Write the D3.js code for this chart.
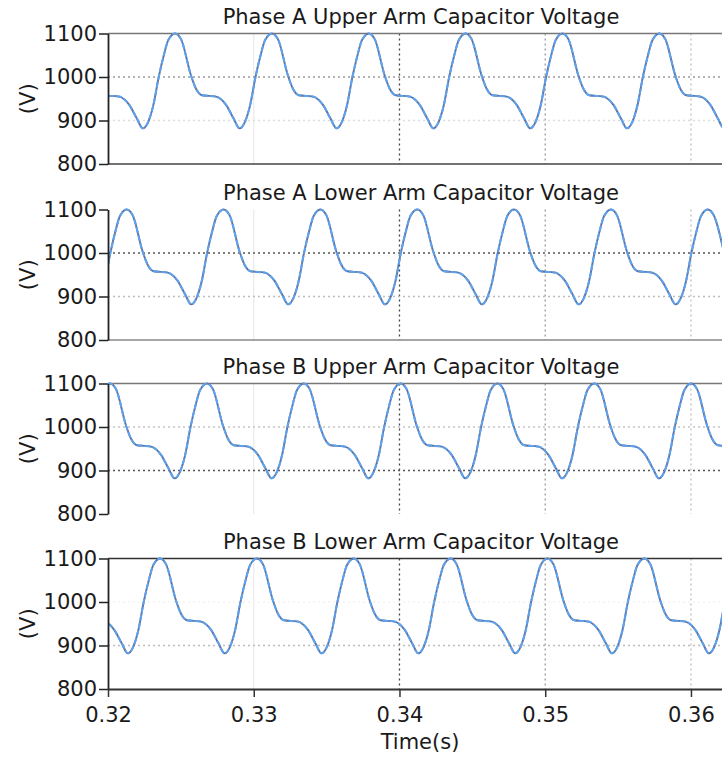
<!DOCTYPE html>
<html>
<head>
<meta charset="utf-8">
<script src="https://cdn.jsdelivr.net/npm/d3@7"></script>
<style>
body{margin:0;background:#fff;}
text{font-family:"DejaVu Sans",Verdana,sans-serif;fill:#1a1a1a;}
</style>
</head>
<body>
<svg id="chart" width="722" height="761"></svg>
<script>
var panelTitles = ["Phase A Upper Arm Capacitor Voltage", "Phase A Lower Arm Capacitor Voltage",
    "Phase B Upper Arm Capacitor Voltage", "Phase B Lower Arm Capacitor Voltage"];
var yTicks = [800, 900, 1000, 1100];
var xTicks = [0.32, 0.33, 0.34, 0.35, 0.36];
var yGrid = [900, 1000];
var xGrid = [0.33, 0.34, 0.35, 0.36];

// Phase A upper arm (time s, voltage V)
var timeAUpper = [0.31796, 0.31837, 0.31906, 0.31940, 0.31981, 0.32077, 0.32146, 0.32197, 0.32239, 0.32276, 0.32311, 0.32348, 0.32383, 0.32414,
    0.32460, 0.32501, 0.32570, 0.32604, 0.32645, 0.32741, 0.32810, 0.32861, 0.32903, 0.32940, 0.32975, 0.33012, 0.33047, 0.33078,
    0.33125, 0.33166, 0.33235, 0.33269, 0.33310, 0.33406, 0.33475, 0.33526, 0.33568, 0.33605, 0.33640, 0.33677, 0.33712, 0.33743,
    0.33789, 0.33830, 0.33899, 0.33933, 0.33974, 0.34070, 0.34139, 0.34190, 0.34232, 0.34269, 0.34304, 0.34341, 0.34376, 0.34407,
    0.34454, 0.34495, 0.34564, 0.34598, 0.34639, 0.34735, 0.34804, 0.34855, 0.34897, 0.34934, 0.34969, 0.35006, 0.35041, 0.35072,
    0.35118, 0.35159, 0.35228, 0.35262, 0.35303, 0.35399, 0.35468, 0.35519, 0.35561, 0.35598, 0.35633, 0.35670, 0.35705, 0.35736,
    0.35783, 0.35824, 0.35893, 0.35927, 0.35968, 0.36064, 0.36133, 0.36184, 0.36226, 0.36263, 0.36298, 0.36335, 0.36370, 0.36401,
    0.36447];
var voltAUpper = [1100, 1087, 1003, 973, 958, 955, 936, 905, 882, 897, 935, 1000, 1050, 1085,
    1100, 1087, 1003, 973, 958, 955, 936, 905, 882, 897, 935, 1000, 1050, 1085,
    1100, 1087, 1003, 973, 958, 955, 936, 905, 882, 897, 935, 1000, 1050, 1085,
    1100, 1087, 1003, 973, 958, 955, 936, 905, 882, 897, 935, 1000, 1050, 1085,
    1100, 1087, 1003, 973, 958, 955, 936, 905, 882, 897, 935, 1000, 1050, 1085,
    1100, 1087, 1003, 973, 958, 955, 936, 905, 882, 897, 935, 1000, 1050, 1085,
    1100, 1087, 1003, 973, 958, 955, 936, 905, 882, 897, 935, 1000, 1050, 1085,
    1100];

// Phase A lower arm
var timeALower = [0.31464, 0.31505, 0.31574, 0.31608, 0.31649, 0.31745, 0.31814, 0.31865, 0.31907, 0.31944, 0.31979, 0.32016, 0.32051, 0.32082,
    0.32128, 0.32169, 0.32238, 0.32272, 0.32313, 0.32409, 0.32478, 0.32529, 0.32571, 0.32608, 0.32643, 0.32680, 0.32715, 0.32746,
    0.32793, 0.32834, 0.32903, 0.32937, 0.32978, 0.33074, 0.33143, 0.33194, 0.33236, 0.33273, 0.33308, 0.33345, 0.33380, 0.33411,
    0.33457, 0.33498, 0.33567, 0.33601, 0.33642, 0.33738, 0.33807, 0.33858, 0.33900, 0.33937, 0.33972, 0.34009, 0.34044, 0.34075,
    0.34122, 0.34163, 0.34232, 0.34266, 0.34307, 0.34403, 0.34472, 0.34523, 0.34565, 0.34602, 0.34637, 0.34674, 0.34709, 0.34740,
    0.34786, 0.34827, 0.34896, 0.34930, 0.34971, 0.35067, 0.35136, 0.35187, 0.35229, 0.35266, 0.35301, 0.35338, 0.35373, 0.35404,
    0.35451, 0.35492, 0.35561, 0.35595, 0.35636, 0.35732, 0.35801, 0.35852, 0.35894, 0.35931, 0.35966, 0.36003, 0.36038, 0.36069,
    0.36115, 0.36156, 0.36225];
var voltALower = [1100, 1087, 1003, 973, 958, 955, 936, 905, 882, 897, 935, 1000, 1050, 1085,
    1100, 1087, 1003, 973, 958, 955, 936, 905, 882, 897, 935, 1000, 1050, 1085,
    1100, 1087, 1003, 973, 958, 955, 936, 905, 882, 897, 935, 1000, 1050, 1085,
    1100, 1087, 1003, 973, 958, 955, 936, 905, 882, 897, 935, 1000, 1050, 1085,
    1100, 1087, 1003, 973, 958, 955, 936, 905, 882, 897, 935, 1000, 1050, 1085,
    1100, 1087, 1003, 973, 958, 955, 936, 905, 882, 897, 935, 1000, 1050, 1085,
    1100, 1087, 1003, 973, 958, 955, 936, 905, 882, 897, 935, 1000, 1050, 1085,
    1100, 1087, 1003];

// Phase B upper arm
var timeBUpper = [0.31350, 0.31391, 0.31460, 0.31494, 0.31535, 0.31631, 0.31700, 0.31751, 0.31793, 0.31830, 0.31865, 0.31902, 0.31937, 0.31968,
    0.32014, 0.32055, 0.32124, 0.32158, 0.32199, 0.32295, 0.32364, 0.32415, 0.32457, 0.32494, 0.32529, 0.32566, 0.32601, 0.32632,
    0.32679, 0.32720, 0.32789, 0.32823, 0.32864, 0.32960, 0.33029, 0.33080, 0.33122, 0.33159, 0.33194, 0.33231, 0.33266, 0.33297,
    0.33343, 0.33384, 0.33453, 0.33487, 0.33528, 0.33624, 0.33693, 0.33744, 0.33786, 0.33823, 0.33858, 0.33895, 0.33930, 0.33961,
    0.34008, 0.34049, 0.34118, 0.34152, 0.34193, 0.34289, 0.34358, 0.34409, 0.34451, 0.34488, 0.34523, 0.34560, 0.34595, 0.34626,
    0.34672, 0.34713, 0.34782, 0.34816, 0.34857, 0.34953, 0.35022, 0.35073, 0.35115, 0.35152, 0.35187, 0.35224, 0.35259, 0.35290,
    0.35337, 0.35378, 0.35447, 0.35481, 0.35522, 0.35618, 0.35687, 0.35738, 0.35780, 0.35817, 0.35852, 0.35889, 0.35924, 0.35955,
    0.36001, 0.36042, 0.36111, 0.36145, 0.36186, 0.36282];
var voltBUpper = [1100, 1087, 1003, 973, 958, 955, 936, 905, 882, 897, 935, 1000, 1050, 1085,
    1100, 1087, 1003, 973, 958, 955, 936, 905, 882, 897, 935, 1000, 1050, 1085,
    1100, 1087, 1003, 973, 958, 955, 936, 905, 882, 897, 935, 1000, 1050, 1085,
    1100, 1087, 1003, 973, 958, 955, 936, 905, 882, 897, 935, 1000, 1050, 1085,
    1100, 1087, 1003, 973, 958, 955, 936, 905, 882, 897, 935, 1000, 1050, 1085,
    1100, 1087, 1003, 973, 958, 955, 936, 905, 882, 897, 935, 1000, 1050, 1085,
    1100, 1087, 1003, 973, 958, 955, 936, 905, 882, 897, 935, 1000, 1050, 1085,
    1100, 1087, 1003, 973, 958, 955];

// Phase B lower arm
var timeBLower = [0.31693, 0.31734, 0.31803, 0.31837, 0.31878, 0.31974, 0.32043, 0.32094, 0.32136, 0.32173, 0.32208, 0.32245, 0.32280, 0.32311,
    0.32357, 0.32398, 0.32467, 0.32501, 0.32542, 0.32638, 0.32707, 0.32758, 0.32800, 0.32837, 0.32872, 0.32909, 0.32944, 0.32975,
    0.33022, 0.33063, 0.33132, 0.33166, 0.33207, 0.33303, 0.33372, 0.33423, 0.33465, 0.33502, 0.33537, 0.33574, 0.33609, 0.33640,
    0.33686, 0.33727, 0.33796, 0.33830, 0.33871, 0.33967, 0.34036, 0.34087, 0.34129, 0.34166, 0.34201, 0.34238, 0.34273, 0.34304,
    0.34351, 0.34392, 0.34461, 0.34495, 0.34536, 0.34632, 0.34701, 0.34752, 0.34794, 0.34831, 0.34866, 0.34903, 0.34938, 0.34969,
    0.35015, 0.35056, 0.35125, 0.35159, 0.35200, 0.35296, 0.35365, 0.35416, 0.35458, 0.35495, 0.35530, 0.35567, 0.35602, 0.35633,
    0.35680, 0.35721, 0.35790, 0.35824, 0.35865, 0.35961, 0.36030, 0.36081, 0.36123, 0.36160, 0.36195, 0.36232, 0.36267, 0.36298,
    0.36344];
var voltBLower = [1100, 1087, 1003, 973, 958, 955, 936, 905, 882, 897, 935, 1000, 1050, 1085,
    1100, 1087, 1003, 973, 958, 955, 936, 905, 882, 897, 935, 1000, 1050, 1085,
    1100, 1087, 1003, 973, 958, 955, 936, 905, 882, 897, 935, 1000, 1050, 1085,
    1100, 1087, 1003, 973, 958, 955, 936, 905, 882, 897, 935, 1000, 1050, 1085,
    1100, 1087, 1003, 973, 958, 955, 936, 905, 882, 897, 935, 1000, 1050, 1085,
    1100, 1087, 1003, 973, 958, 955, 936, 905, 882, 897, 935, 1000, 1050, 1085,
    1100, 1087, 1003, 973, 958, 955, 936, 905, 882, 897, 935, 1000, 1050, 1085,
    1100];

var panelTimes = [timeAUpper, timeALower, timeBUpper, timeBLower];
var panelVolts = [voltAUpper, voltALower, voltBUpper, voltBLower];

var svg = d3.select("#chart");
var left = 108, right = 722;
var tops = [33.5, 209.5, 383.5, 558.5];
var plotH = 130.5;

// grid colours per panel for the 900 / 1000 lines
var hGridColor = [["#dcdcdc", "#9a9a9a"], ["#bdbdbd", "#555"], ["#555", "#c4c4c4"], ["#bdbdbd", "#f2f2f2"]];
var vGridColor = {0.33: "#ececec", 0.34: "#444", 0.35: "#9a9a9a", 0.36: "#c0c0c0"};

var x = d3.scaleLinear().domain([0.32, 0.36213]).range([left, right]);
var y = d3.scaleLinear().domain([800, 1100]).range([plotH, 0]);

svg.append("defs").append("clipPath").attr("id", "plotclip")
    .append("rect").attr("x", left).attr("y", -3).attr("width", right - left).attr("height", plotH + 6);

panelTitles.forEach(function(title, i) {
    var g = svg.append("g").attr("transform", "translate(0," + tops[i] + ")");

    //vertical grid
    g.selectAll(".vgrid").data(xGrid).enter().append("line")
        .attr("x1", function(d) { return x(d); }).attr("x2", function(d) { return x(d); })
        .attr("y1", 0).attr("y2", plotH)
        .attr("stroke", function(d) { return vGridColor[d]; })
        .attr("stroke-width", 1.3)
        .attr("stroke-dasharray", function(d) { return d == 0.33 ? null : "2,3"; });

    //horizontal grid
    g.selectAll(".hgrid").data(yGrid).enter().append("line")
        .attr("x1", left).attr("x2", right)
        .attr("y1", function(d) { return y(d); }).attr("y2", function(d) { return y(d); })
        .attr("stroke", function(d, k) { return hGridColor[i][k]; })
        .attr("stroke-width", 1.3)
        .attr("stroke-dasharray", "2,3");

    // frame lines that show in the original
    if (i == 0 || i == 2 || i == 3) {
        g.append("line").attr("x1", left).attr("x2", right).attr("y1", 0).attr("y2", 0)
            .attr("stroke", i == 3 ? "#333" : "#777").attr("stroke-width", 1.6);
    }
    if (i == 0 || i == 1) {
        g.append("line").attr("x1", left).attr("x2", right).attr("y1", plotH).attr("y2", plotH)
            .attr("stroke", i == 0 ? "#444" : "#888").attr("stroke-width", 1.6);
    }

    var pts = d3.zip(panelTimes[i], panelVolts[i]);
    var line = d3.line()
        .x(function(d) { return x(d[0]); })
        .y(function(d) { return y(d[1]); })
        .curve(d3.curveMonotoneX);

    var lines = g.append("g").attr("clip-path", "url(#plotclip)");
    lines.append("path").attr("d", line(pts))
        .attr("fill", "none").attr("stroke", "#62719a").attr("stroke-width", 1.9);
    lines.append("path").attr("d", line(pts))
        .attr("fill", "none").attr("stroke", "#5ca2ee").attr("stroke-width", 2)
        .attr("stroke-dasharray", "6,2");

    var yAxis = g.append("g").attr("transform", "translate(" + left + ",0)")
        .call(d3.axisLeft(y).tickValues(yTicks).tickSize(9).tickSizeOuter(0).tickPadding(2)
            .tickFormat(d3.format("d")));
    yAxis.selectAll("text").style("font-size", "21px").attr("fill", "#1a1a1a");
    yAxis.selectAll("line").attr("stroke", "#222").attr("stroke-width", 1.5);
    yAxis.select(".domain").attr("stroke", "#222").attr("stroke-width", 1.8);

    g.append("text").attr("x", 421).attr("y", -9.5)
        .attr("text-anchor", "middle").style("font-size", "21px")
        .text(title);

    g.append("text").attr("transform", "translate(28," + (plotH / 2) + ") rotate(-90)")
        .attr("text-anchor", "middle").attr("dominant-baseline", "central")
        .style("font-size", "21px")
        .text("(V)");

    if (i == 3) {
        var xAxis = g.append("g").attr("transform", "translate(0," + plotH + ")")
            .call(d3.axisBottom(x).tickValues(xTicks).tickSize(8).tickSizeOuter(0).tickPadding(10)
                .tickFormat(d3.format(".2f")));
        xAxis.selectAll("text").style("font-size", "21px").attr("fill", "#1a1a1a");
        xAxis.selectAll("line").attr("stroke", "#333").attr("stroke-width", 1.5);
        xAxis.select(".domain").attr("stroke", "#333").attr("stroke-width", 1.8);
    }
});

svg.append("text").attr("x", 420).attr("y", 749)
    .attr("text-anchor", "middle").style("font-size", "21px")
    .text("Time(s)");
</script>
</body>
</html>
